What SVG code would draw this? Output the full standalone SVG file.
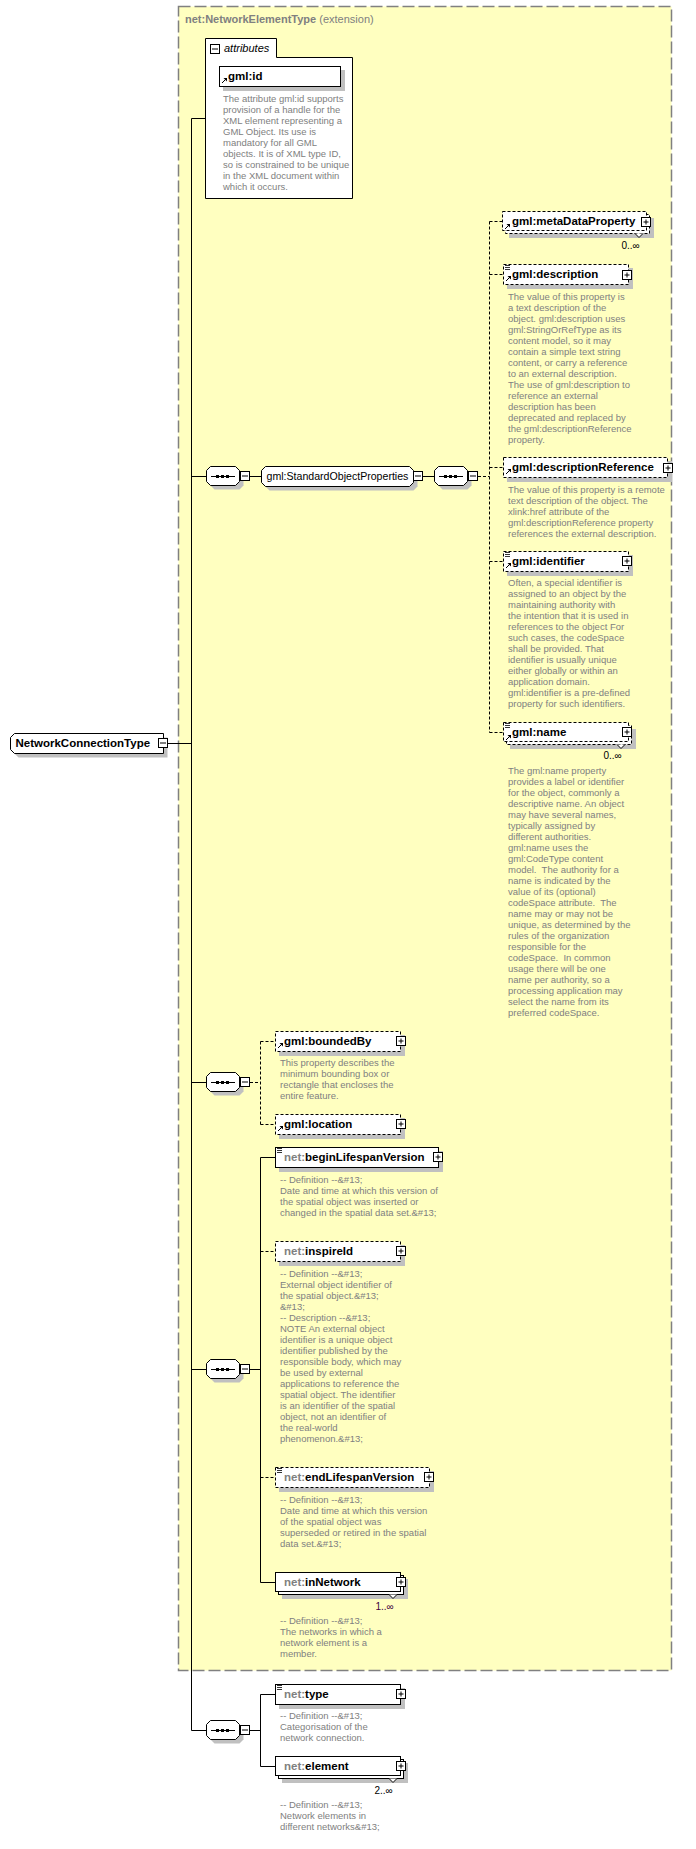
<svg xmlns="http://www.w3.org/2000/svg" xmlns:xlink="http://www.w3.org/1999/xlink" width="696" height="1849" viewBox="0 0 696 1849">
<style>
text{font-family:"Liberation Sans",Arial,sans-serif}
.bx{fill:#fff;stroke:#000;stroke-width:1}
.dsh{stroke-dasharray:3,2}
.sh{fill:#c0c0c0}
.en{font-size:11.5px;font-weight:bold;fill:#000}
.pf{fill:#808080}
.ds{font-size:9.5px;fill:#808080}
.mult{font-size:10px;fill:#000}
.cn{fill:none;stroke:#000;stroke-width:1}
.cd{fill:none;stroke:#000;stroke-width:1;stroke-dasharray:3,2}
.notch{fill:#fff;stroke:#000;stroke-width:1}
</style>
<defs>
<g id="plus"><rect x="0.5" y="0.5" width="9" height="9" fill="#fff" stroke="#000"/><path d="M2.5,5H7.5M5,2.5V7.5" stroke="#000" fill="none"/></g>
<g id="minus"><rect x="0.5" y="0.5" width="9" height="9" fill="#fff" stroke="#000"/><path d="M2,5H8" stroke="#000" fill="none"/></g>
<g id="ref"><path d="M3,17L7,13" stroke="#000" fill="none"/><polygon points="4.5,12 8,12 8,15.5" fill="#000"/></g>
<g id="doc"><path d="M2,1.5H7M2,3.5H7M2,5.5H7" stroke="#000" fill="none" stroke-width="0.8"/></g>
<g id="seq">
<polygon points="8.5,4.5 33.5,4.5 37.5,8.5 37.5,19.5 33.5,23.5 8.5,23.5 4.5,19.5 4.5,8.5" fill="#c0c0c0"/>
<polygon points="4.5,0.5 29.5,0.5 33.5,4.5 33.5,15.5 29.5,19.5 4.5,19.5 0.5,15.5 0.5,4.5" fill="#fff" stroke="#000"/>
<path d="M5,10.5H29" stroke="#000" fill="none"/>
<rect x="10" y="9" width="3" height="3" fill="#000"/><rect x="15" y="9" width="3" height="3" fill="#000"/><rect x="20" y="9" width="3" height="3" fill="#000"/>
<use href="#minus" x="34" y="5"/>
</g>
</defs>

<rect id="ext-bg" x="178.5" y="6.5" width="493" height="1664" fill="#ffffc0" stroke="#808080" stroke-width="1.5" stroke-dasharray="12,4"/>
<text x="185" y="22.5" font-size="11px" fill="#808080"><tspan font-weight="bold">net:NetworkElementType</tspan> (extension)</text>

<g id="connectors">
<path class="cn" d="M191.5,118.5V1730.5M191.5,118.5H205.5M168,743.5H191.5M191.5,476.5H206M250,476.5H261.5M423,476.5H434M191.5,1082.5H206M191.5,1369.5H206M250,1369.5H260.5M260.5,1157.5V1582.5M260.5,1157.5H275.5M260.5,1582.5H275.5M191.5,1730.5H206M250,1730.5H260.5M260.5,1694.5V1766.5M260.5,1694.5H275.5M260.5,1766.5H275.5"/>
<path class="cd" d="M478,476.5H489.5M489.5,221.5V732.5M489.5,221.5H502.5M489.5,274.5H503.5M489.5,467.5H503.5M489.5,561.5H503.5M489.5,732.5H503.5M250,1082.5H260.5M260.5,1041.5V1124.5M260.5,1041.5H275.5M260.5,1124.5H275.5M260.5,1251.5H275.5M260.5,1477.5H275.5"/>
</g>

<g id="n-NetworkConnectionType">
<polygon points="18.5,737.5 167.5,737.5 167.5,757.5 18.5,757.5 14.5,753.5 14.5,741.5" fill="#c0c0c0"/>
<polygon points="14.5,733.5 163.5,733.5 163.5,753.5 14.5,753.5 10.5,749.5 10.5,737.5" fill="#fff" stroke="#000"/>
<text class="en" x="15.5" y="747">NetworkConnectionType</text>
<use href="#minus" x="158" y="738"/>
</g>

<g id="n-attributes">
<path d="M205.5,198.5V38.5H276.5V57.5H352.5V198.5Z" fill="#fff" stroke="#000"/>
<use href="#minus" x="210" y="44"/>
<text x="224" y="51.5" font-size="11px" font-style="italic" fill="#000">attributes</text>
</g>

<g id="n-gml-id">
<rect class="sh" x="223" y="70" width="122" height="21"/>
<rect class="bx" x="219.5" y="66.5" width="121" height="20"/>
<use href="#ref" x="219" y="66"/>
<text class="en" x="228" y="80">gml:id</text>
<text class="ds" x="223" y="101.7">The attribute gml:id supports<tspan x="223" dy="11">provision of a handle for the</tspan><tspan x="223" dy="11">XML element representing a</tspan><tspan x="223" dy="11">GML Object. Its use is</tspan><tspan x="223" dy="11">mandatory for all GML</tspan><tspan x="223" dy="11">objects. It is of XML type ID,</tspan><tspan x="223" dy="11">so is constrained to be unique</tspan><tspan x="223" dy="11">in the XML document within</tspan><tspan x="223" dy="11">which it occurs.</tspan></text>
</g>

<g id="n-seq1"><use href="#seq" x="206" y="466"/></g>

<g id="n-StandardObjectProperties">
<polygon points="269.5,470.5 413.5,470.5 417.5,474.5 417.5,486.5 413.5,490.5 269.5,490.5 265.5,486.5 265.5,474.5" fill="#c0c0c0"/>
<polygon points="265.5,466.5 409.5,466.5 413.5,470.5 413.5,482.5 409.5,486.5 265.5,486.5 261.5,482.5 261.5,470.5" fill="#fff" stroke="#000"/>
<text x="266.5" y="480" font-size="10.6px" fill="#000">gml:StandardObjectProperties</text>
<use href="#minus" x="413" y="471"/>
</g>

<g id="n-seq1b"><use href="#seq" x="434" y="466"/></g>

<g id="n-metaDataProperty">
<rect class="sh" x="509" y="218" width="145" height="20"/>
<rect class="bx dsh" x="505.5" y="214.5" width="144" height="19"/>
<path class="notch" d="M635,233.5L639,237.5L643,233.5"/>
<rect class="bx dsh" x="502.5" y="211.5" width="144" height="19"/>
<use href="#ref" x="502" y="212"/>
<text class="en" x="512" y="225">gml:metaDataProperty</text>
<use href="#plus" x="641" y="217"/>
<text class="mult" x="621.5" y="248.5">0..∞</text>
</g>

<g id="n-description">
<rect class="sh" x="507" y="268" width="126" height="21"/>
<rect class="bx dsh" x="503.5" y="264.5" width="125" height="20"/>
<use href="#doc" x="503" y="264"/>
<use href="#ref" x="503" y="264"/>
<text class="en" x="512" y="277.5">gml:description</text>
<use href="#plus" x="622" y="270"/>
<text class="ds" x="508" y="300">The value of this property is<tspan x="508" dy="11">a text description of the</tspan><tspan x="508" dy="11">object. gml:description uses</tspan><tspan x="508" dy="11">gml:StringOrRefType as its</tspan><tspan x="508" dy="11">content model, so it may</tspan><tspan x="508" dy="11">contain a simple text string</tspan><tspan x="508" dy="11">content, or carry a reference</tspan><tspan x="508" dy="11">to an external description.</tspan><tspan x="508" dy="11">The use of gml:description to</tspan><tspan x="508" dy="11">reference an external</tspan><tspan x="508" dy="11">description has been</tspan><tspan x="508" dy="11">deprecated and replaced by</tspan><tspan x="508" dy="11">the gml:descriptionReference</tspan><tspan x="508" dy="11">property.</tspan></text>
</g>

<g id="n-descriptionReference">
<rect class="sh" x="507" y="461" width="165" height="21"/>
<rect class="bx dsh" x="503.5" y="457.5" width="164" height="20"/>
<use href="#ref" x="503" y="457"/>
<text class="en" x="512" y="470.5">gml:descriptionReference</text>
<use href="#plus" x="663" y="463"/>
<text class="ds" x="508" y="492.5">The value of this property is a remote<tspan x="508" dy="11">text description of the object. The</tspan><tspan x="508" dy="11">xlink:href attribute of the</tspan><tspan x="508" dy="11">gml:descriptionReference property</tspan><tspan x="508" dy="11">references the external description.</tspan></text>
</g>

<g id="n-identifier">
<rect class="sh" x="507" y="555" width="126" height="21"/>
<rect class="bx dsh" x="503.5" y="551.5" width="125" height="20"/>
<use href="#doc" x="503" y="551"/>
<use href="#ref" x="503" y="551"/>
<text class="en" x="512" y="564.5">gml:identifier</text>
<use href="#plus" x="622" y="556"/>
<text class="ds" x="508" y="586">Often, a special identifier is<tspan x="508" dy="11">assigned to an object by the</tspan><tspan x="508" dy="11">maintaining authority with</tspan><tspan x="508" dy="11">the intention that it is used in</tspan><tspan x="508" dy="11">references to the object For</tspan><tspan x="508" dy="11">such cases, the codeSpace</tspan><tspan x="508" dy="11">shall be provided. That</tspan><tspan x="508" dy="11">identifier is usually unique</tspan><tspan x="508" dy="11">either globally or within an</tspan><tspan x="508" dy="11">application domain.</tspan><tspan x="508" dy="11">gml:identifier is a pre-defined</tspan><tspan x="508" dy="11">property for such identifiers.</tspan></text>
</g>

<g id="n-name">
<rect class="sh" x="510" y="729" width="126" height="20"/>
<rect class="bx dsh" x="506.5" y="725.5" width="125" height="19"/>
<path class="notch" d="M617,744.5L621,748.5L625,744.5"/>
<rect class="bx dsh" x="503.5" y="722.5" width="125" height="19"/>
<use href="#doc" x="503" y="722"/>
<use href="#ref" x="503" y="723"/>
<text class="en" x="512" y="736">gml:name</text>
<use href="#plus" x="622" y="727"/>
<text class="mult" x="603.5" y="759">0..∞</text>
<text class="ds" x="508" y="774.3">The gml:name property<tspan x="508" dy="11">provides a label or identifier</tspan><tspan x="508" dy="11">for the object, commonly a</tspan><tspan x="508" dy="11">descriptive name. An object</tspan><tspan x="508" dy="11">may have several names,</tspan><tspan x="508" dy="11">typically assigned by</tspan><tspan x="508" dy="11">different authorities.</tspan><tspan x="508" dy="11">gml:name uses the</tspan><tspan x="508" dy="11">gml:CodeType content</tspan><tspan x="508" dy="11" xml:space="preserve">model.  The authority for a</tspan><tspan x="508" dy="11">name is indicated by the</tspan><tspan x="508" dy="11">value of its (optional)</tspan><tspan x="508" dy="11" xml:space="preserve">codeSpace attribute.  The</tspan><tspan x="508" dy="11">name may or may not be</tspan><tspan x="508" dy="11">unique, as determined by the</tspan><tspan x="508" dy="11">rules of the organization</tspan><tspan x="508" dy="11">responsible for the</tspan><tspan x="508" dy="11" xml:space="preserve">codeSpace.  In common</tspan><tspan x="508" dy="11">usage there will be one</tspan><tspan x="508" dy="11">name per authority, so a</tspan><tspan x="508" dy="11">processing application may</tspan><tspan x="508" dy="11">select the name from its</tspan><tspan x="508" dy="11">preferred codeSpace.</tspan></text>
</g>

<g id="n-seq2"><use href="#seq" x="206" y="1072"/></g>

<g id="n-boundedBy">
<rect class="sh" x="279" y="1035" width="126" height="21"/>
<rect class="bx dsh" x="275.5" y="1031.5" width="125" height="20"/>
<use href="#ref" x="275" y="1031"/>
<text class="en" x="284" y="1045">gml:boundedBy</text>
<use href="#plus" x="396" y="1036"/>
<text class="ds" x="280" y="1066">This property describes the<tspan x="280" dy="11">minimum bounding box or</tspan><tspan x="280" dy="11">rectangle that encloses the</tspan><tspan x="280" dy="11">entire feature.</tspan></text>
</g>

<g id="n-location">
<rect class="sh" x="279" y="1118" width="126" height="21"/>
<rect class="bx dsh" x="275.5" y="1114.5" width="125" height="20"/>
<use href="#ref" x="275" y="1114"/>
<text class="en" x="284" y="1128">gml:location</text>
<use href="#plus" x="396" y="1119"/>
</g>

<g id="n-seq3"><use href="#seq" x="206" y="1359"/></g>

<g id="n-beginLifespanVersion">
<rect class="sh" x="279" y="1151" width="164" height="21"/>
<rect class="bx" x="275.5" y="1147.5" width="163" height="20"/>
<use href="#doc" x="275" y="1147"/>
<text class="en" x="284" y="1161"><tspan class="pf">net:</tspan>beginLifespanVersion</text>
<use href="#plus" x="433" y="1152"/>
<text class="ds" x="280" y="1182.7">-- Definition --&amp;#13;<tspan x="280" dy="11">Date and time at which this version of</tspan><tspan x="280" dy="11">the spatial object was inserted or</tspan><tspan x="280" dy="11">changed in the spatial data set.&amp;#13;</tspan></text>
</g>

<g id="n-inspireId">
<rect class="sh" x="279" y="1245" width="126" height="21"/>
<rect class="bx dsh" x="275.5" y="1241.5" width="125" height="20"/>
<text class="en" x="284" y="1255"><tspan class="pf">net:</tspan>inspireId</text>
<use href="#plus" x="396" y="1246"/>
<text class="ds" x="280" y="1276.7">-- Definition --&amp;#13;<tspan x="280" dy="11">External object identifier of</tspan><tspan x="280" dy="11">the spatial object.&amp;#13;</tspan><tspan x="280" dy="11">&amp;#13;</tspan><tspan x="280" dy="11">-- Description --&amp;#13;</tspan><tspan x="280" dy="11">NOTE An external object</tspan><tspan x="280" dy="11">identifier is a unique object</tspan><tspan x="280" dy="11">identifier published by the</tspan><tspan x="280" dy="11">responsible body, which may</tspan><tspan x="280" dy="11">be used by external</tspan><tspan x="280" dy="11">applications to reference the</tspan><tspan x="280" dy="11">spatial object. The identifier</tspan><tspan x="280" dy="11">is an identifier of the spatial</tspan><tspan x="280" dy="11">object, not an identifier of</tspan><tspan x="280" dy="11">the real-world</tspan><tspan x="280" dy="11">phenomenon.&amp;#13;</tspan></text>
</g>

<g id="n-endLifespanVersion">
<rect class="sh" x="279" y="1471" width="155" height="21"/>
<rect class="bx dsh" x="275.5" y="1467.5" width="154" height="20"/>
<use href="#doc" x="275" y="1467"/>
<text class="en" x="284" y="1481"><tspan class="pf">net:</tspan>endLifespanVersion</text>
<use href="#plus" x="424" y="1472"/>
<text class="ds" x="280" y="1502.7">-- Definition --&amp;#13;<tspan x="280" dy="11">Date and time at which this version</tspan><tspan x="280" dy="11">of the spatial object was</tspan><tspan x="280" dy="11">superseded or retired in the spatial</tspan><tspan x="280" dy="11">data set.&amp;#13;</tspan></text>
</g>

<g id="n-inNetwork">
<rect class="sh" x="282" y="1579" width="126" height="20"/>
<rect class="bx" x="278.5" y="1575.5" width="125" height="19"/>
<path class="notch" d="M389,1594.5L393,1598.5L397,1594.5"/>
<rect class="bx" x="275.5" y="1572.5" width="125" height="19"/>
<text class="en" x="284" y="1586"><tspan class="pf">net:</tspan>inNetwork</text>
<use href="#plus" x="396" y="1577"/>
<text class="mult" x="375.5" y="1609.5" style="fill:#400040">1..∞</text>
<text class="ds" x="280" y="1624.3">-- Definition --&amp;#13;<tspan x="280" dy="11">The networks in which a</tspan><tspan x="280" dy="11">network element is a</tspan><tspan x="280" dy="11">member.</tspan></text>
</g>

<g id="n-seq4"><use href="#seq" x="206" y="1720"/></g>

<g id="n-type">
<rect class="sh" x="279" y="1688" width="126" height="21"/>
<rect class="bx" x="275.5" y="1684.5" width="125" height="20"/>
<use href="#doc" x="275" y="1684"/>
<text class="en" x="284" y="1698"><tspan class="pf">net:</tspan>type</text>
<use href="#plus" x="396" y="1689"/>
<text class="ds" x="280" y="1719.3">-- Definition --&amp;#13;<tspan x="280" dy="11">Categorisation of the</tspan><tspan x="280" dy="11">network connection.</tspan></text>
</g>

<g id="n-element">
<rect class="sh" x="282" y="1763" width="126" height="20"/>
<rect class="bx" x="278.5" y="1759.5" width="125" height="19"/>
<path class="notch" d="M389,1778.5L393,1782.5L397,1778.5"/>
<rect class="bx" x="275.5" y="1756.5" width="125" height="19"/>
<text class="en" x="284" y="1770"><tspan class="pf">net:</tspan>element</text>
<use href="#plus" x="396" y="1761"/>
<text class="mult" x="374.5" y="1793.5">2..∞</text>
<text class="ds" x="280" y="1808.3">-- Definition --&amp;#13;<tspan x="280" dy="11">Network elements in</tspan><tspan x="280" dy="11">different networks&amp;#13;</tspan></text>
</g>
</svg>
